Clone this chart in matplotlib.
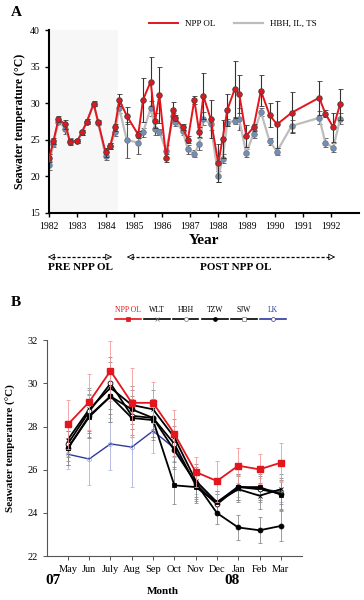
import numpy as np
import matplotlib
matplotlib.use('Agg')
import matplotlib.pyplot as plt
from matplotlib.lines import Line2D

plt.rcParams['font.family'] = ['Liberation Serif', 'DejaVu Serif']

# ---- panel A data (decimal years) ----
a_year = [1982.0, 1982.15, 1982.33, 1982.58, 1982.74, 1983.0, 1983.16, 1983.34, 1983.58, 1983.74,
          1984.0, 1984.17, 1984.33, 1984.49, 1984.75, 1985.16, 1985.33, 1985.6, 1985.76, 1985.91,
          1986.15, 1986.4, 1986.47, 1986.74, 1986.92, 1987.15, 1987.32, 1987.47, 1987.73,
          1988.0, 1988.15, 1988.32, 1988.58, 1988.74, 1988.99, 1989.25, 1989.51, 1989.82,
          1990.08, 1990.6, 1991.58, 1991.8, 1992.08, 1992.32]
npp_a = [22.5, 24.8, 27.8, 27.1, 24.7, 24.85, 26.0, 27.5, 29.95, 27.4,
         23.3, 24.2, 26.7, 30.45, 28.3, 25.7, 30.45, 32.95, 27.6, 31.1,
         22.5, 29.1, 28.0, 26.7, 25.0, 30.45, 26.1, 31.0, 27.85,
         21.8, 25.1, 29.1, 31.9, 31.3, 25.55, 26.7, 31.7, 28.4,
         27.1, 28.7, 30.75, 28.55, 26.7, 29.85]
npp_a_err = [0.5, 0.4, 0.4, 0.6, 0.4, 0.3, 0.3, 0.3, 0.3, 0.3,
             0.6, 0.4, 0.5, 0.8, 1.2, 0.5, 3.0, 3.3, 1.0, 3.8,
             0.5, 1.0, 0.4, 0.4, 0.5, 0.5, 0.7, 3.1, 2.6,
             2.6, 2.6, 2.2, 3.9, 2.6, 1.5, 0.5, 2.1, 1.6,
             3.2, 2.8, 2.3, 0.5, 2.0, 2.1]
ctrl_a = [21.5, 24.45, 27.5, 26.5, 24.8, 24.8, 26.0, 27.5, 29.9, 27.3,
          22.8, 24.1, 26.1, 29.3, 25.0, 24.6, 26.0, 29.3, 26.5, 26.1,
          23.5, 28.2, 27.5, 26.2, 23.7, 23.1, 24.4, 27.9, 27.1,
          20.0, 22.4, 27.35, 27.6, 27.8, 23.2, 25.8, 28.8, 24.8,
          23.4, 26.9, 28.0, 24.6, 23.9, 27.9]
ctrl_a_err = [0.6, 0.5, 0.4, 0.7, 0.4, 0.3, 0.3, 0.3, 0.3, 0.3,
              0.6, 0.4, 0.6, 0.6, 2.5, 1.6, 0.6, 1.0, 0.8, 0.4,
              0.8, 0.5, 0.6, 0.5, 0.6, 0.5, 0.8, 0.9, 0.8,
              0.8, 0.6, 0.5, 0.5, 1.5, 0.6, 0.5, 0.5, 0.5,
              0.5, 0.8, 0.9, 0.6, 0.6, 0.8]
a_ticks = list(range(1982, 1993))

# ---- panel B data ----
months = ['May', 'Jun', 'July', 'Aug', 'Sep', 'Oct', 'Nov', 'Dec', 'Jan', 'Feb', 'Mar']
npp_b = [28.1, 29.14, 30.58, 29.1, 29.1, 27.67, 25.9, 25.48, 26.19, 26.02, 26.33]
npp_b_err = [1.15, 1.3, 1.4, 1.6, 0.95, 1.1, 0.7, 0.95, 0.8, 0.7, 0.9]
wlt_b = [27.4, 28.8, 29.8, 29.0, 28.8, 27.5, 25.5, 24.5, 25.1, 24.8, 25.1]
hbh_b = [27.2, 28.7, 30.0, 28.5, 28.4, 27.2, 25.3, 24.4, 25.2, 25.1, 24.9]
tzw_b = [27.0, 28.5, 29.4, 28.8, 28.4, 26.9, 25.4, 24.0, 23.33, 23.2, 23.4]
sjw_b = [27.0, 28.45, 29.4, 28.4, 28.3, 25.28, 25.2, 24.5, 25.2, 25.2, 24.85]
lk_b = [26.72, 26.5, 27.2, 27.05, 27.8, 27.0, 25.4, 24.48, 25.25, 25.1, 25.0]
lk_b_err = [0.7, 1.2, 1.2, 1.85, 1.0, 0.6, 0.5, 0.4, 0.5, 0.5, 0.5]
black_err = [0.8, 1.0, 1.2, 0.9, 0.9, 0.85, 0.75, 0.5, 0.6, 0.6, 0.7]

red = '#e3151d'
fig = plt.figure(figsize=(3.64, 6.0), dpi=100)

# ================= panel A =================
ax = fig.add_axes([0.135, 0.645, 0.852, 0.305])
ax.axvspan(1982, 1984.45, color='#f7f7f7', lw=0, zorder=0)
ax.errorbar(a_year, ctrl_a, yerr=ctrl_a_err, color='#bdbdbd', lw=1.6, ecolor='#555555',
            elinewidth=0.8, capsize=1.8, capthick=0.8, marker='o', ms=4,
            mfc='#6f8fc0', mec='#7a7a7a', mew=0.6, zorder=2, label='HBH, IL, TS')
ax.errorbar(a_year, npp_a, yerr=npp_a_err, color=red, lw=1.4, ecolor='#333333',
            elinewidth=0.8, capsize=1.8, capthick=0.8, marker='o', ms=4,
            mfc=red, mec='#444444', mew=0.6, zorder=3, label='NPP OL')
ax.set_xlim(1982, 1993)
ax.set_ylim(15, 40)
ax.set_xticks(a_ticks)
ax.set_yticks([15, 20, 25, 30, 35, 40])
ax.tick_params(labelsize=7, length=3, width=1)
for s in ['top', 'right']:
    ax.spines[s].set_visible(False)
for s in ['left', 'bottom']:
    ax.spines[s].set_linewidth(1.5)
ax.set_ylabel('Seawater temperature (°C)', fontsize=8.5, fontweight='bold', labelpad=3)
ax.set_xlabel('Year', fontsize=11, fontweight='bold', labelpad=2)

h = [Line2D([], [], color=red, lw=1.4), Line2D([], [], color='#bdbdbd', lw=1.6)]
fig.legend(h, ['NPP OL', 'HBH, IL, TS'], loc='center', bbox_to_anchor=(0.64, 0.96), ncol=2,
           frameon=False, fontsize=6.5, handlelength=3.2, columnspacing=2.0)

fig.text(0.03, 0.98, 'A', fontsize=11, fontweight='bold', va='center')

# pre/post arrows
def dash_arrow(x0, x1, y):
    fig.add_artist(Line2D([x0 + 0.02, x1 - 0.02], [y, y], transform=fig.transFigure,
                          color='black', lw=0.9, ls=(0, (2.5, 1.5))))
    for xa, xb in [(x0 + 0.03, x0), (x1 - 0.03, x1)]:
        fig.add_artist(matplotlib.patches.FancyArrowPatch(
            (xa, y), (xb, y), transform=fig.transFigure,
            arrowstyle='-|>,head_length=4,head_width=2', color='black', lw=0.6,
            mutation_scale=1, fc='white'))

ya = 1 - 257 / 600
dash_arrow(45 / 364, 115 / 364, ya)
dash_arrow(124 / 364, 338 / 364, ya)
fig.text(80 / 364, 1 - 268 / 600, 'PRE NPP OL', fontsize=8, fontweight='bold', ha='center', va='center')
fig.text(236 / 364, 1 - 268 / 600, 'POST NPP OL', fontsize=8, fontweight='bold', ha='center', va='center')

# ================= panel B =================
bx = fig.add_axes([0.128, 0.073, 0.702, 0.36])
x = np.arange(len(months))
ekw = dict(elinewidth=0.6, capsize=1.5, capthick=0.6)
for vals, mk, mfc in [(wlt_b, 'x', 'none'), (hbh_b, 'o', 'white'),
                      (tzw_b, 'o', 'black'), (sjw_b, 's', 'black')]:
    bx.errorbar(x, vals, yerr=black_err, color='black', lw=1.3, ecolor='#8c8c8c',
                marker=mk, ms=3.5, mfc=mfc, mec='black', mew=0.6, zorder=3, **ekw)
bx.errorbar(x, lk_b, yerr=lk_b_err, color='#2f3a9a', lw=1.0, ecolor='#a9b0dc',
            marker='o', ms=3, mfc='none', mec='#9aa3d4', mew=0.5, zorder=2, **ekw)
bx.errorbar(x, npp_b, yerr=npp_b_err, color=red, lw=1.3, ecolor='#f29a9a',
            marker='s', ms=4, mfc=red, mec=red, zorder=4, **ekw)
bx.set_xlim(-1, 11)
bx.set_ylim(22, 32)
bx.set_xticks(x)
bx.set_xticklabels(months)
bx.set_yticks([22, 24, 26, 28, 30, 32])
bx.tick_params(labelsize=7.5, length=3, width=0.7, color='#555555')
for s in ['top', 'right']:
    bx.spines[s].set_visible(False)
for s in ['left', 'bottom']:
    bx.spines[s].set_linewidth(0.8)
    bx.spines[s].set_color('#555555')
bx.set_ylabel('Seawater temperature (°C)', fontsize=8, fontweight='bold', labelpad=8)
fig.text(163 / 364, 1 - 591 / 600, 'Month', fontsize=8, fontweight='bold', ha='center', va='center')
fig.text(45 / 364, 1 - 581 / 600, '07', fontsize=11, fontweight='bold', va='center')
fig.text(224 / 364, 1 - 581 / 600, '08', fontsize=11, fontweight='bold', va='center')
fig.text(0.03, 1 - 302 / 600, 'B', fontsize=11, fontweight='bold', va='center')

# legend B: label above each line sample
leg_names = ['NPP OL', 'WLT', 'HBH', 'TZW', 'SJW', 'LK']
leg_colors = [red, 'black', 'black', 'black', 'black', '#2f3a9a']
leg_marks = ['s', 'x', 'o', 'o', 's', 'o']
leg_mfc = [red, 'none', 'white', 'black', 'white', 'white']
for i, name in enumerate(leg_names):
    x0 = (115 + i * 29.0) / 364
    x1 = x0 + 25.5 / 364
    yl = 1 - 318.5 / 600
    fig.add_artist(Line2D([x0, x1], [yl, yl], transform=fig.transFigure,
                          color=leg_colors[i], lw=1.2))
    fig.add_artist(Line2D([(x0 + x1) / 2], [yl], transform=fig.transFigure, marker=leg_marks[i],
                          ms=2.8, mfc=leg_mfc[i], mec=leg_colors[i] if i in (0, 3, 5) else '#777777',
                          mew=0.5, ls='none'))
    fig.text((x0 + x1) / 2, 1 - 310 / 600, name, fontsize=5.5, ha='center', va='center',
             color=red if i == 0 else ('#2f3a9a' if i == 5 else 'black'))

fig.savefig('out.png', dpi=100)
